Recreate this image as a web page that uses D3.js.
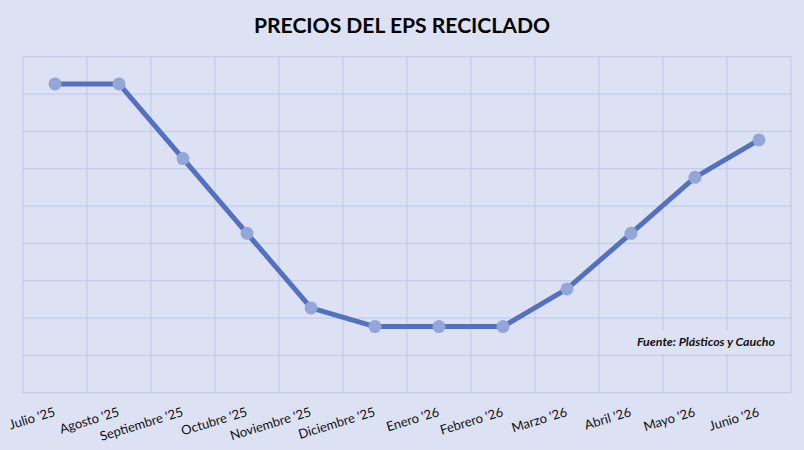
<!DOCTYPE html>
<html>
<head>
<meta charset="utf-8">
<script src="https://cdn.jsdelivr.net/npm/d3@7"></script>
<style>
  body { margin: 0; background: #dce2f4; }
  svg { display: block; }
</style>
</head>
<body>
<div id="chart"></div>
<script>
// datos del grafico
const months = ["Julio '25", "Agosto '25", "Septiembre '25", "Octubre '25", "Noviembre '25", "Diciembre '25",
                "Enero '26", "Febrero '26", "Marzo '26", "Abril '26", "Mayo '26", "Junio '26"];
const prices = [8.27, 8.27, 6.27, 4.27, 2.27, 1.77, 1.77, 1.77, 2.78, 4.27, 5.77, 6.77];
const yTicks = [0, 1, 2, 3, 4, 5, 6, 7, 8, 9];

const width = 804, height = 450;
const margin = { top: 56.7, right: 13, bottom: 57.3, left: 23 };

const svg = d3.select("#chart").append("svg")
    .attr("width", width)
    .attr("height", height);

svg.append("rect")
    .attr("width", width)
    .attr("height", height)
    .attr("fill", "#dce2f4");

const x = d3.scaleBand()
    .domain(months)
    .range([margin.left, width - margin.right]);

const y = d3.scaleLinear()
    .domain([0, 9])
    .range([height - margin.bottom, margin.top]);

// rejilla
const grid = svg.append("g").attr("stroke", "#c2cce9").attr("stroke-width", 1.2);
grid.selectAll(".h")
    .data(yTicks)
    .enter().append("line")
    .attr("x1", margin.left)
    .attr("x2", width - margin.right)
    .attr("y1", d => y(d))
    .attr("y2", d => y(d));

const vLines = months.map(m => x(m)).concat([x(months[months.length - 1]) + x.bandwidth()]);
grid.selectAll(".v")
    .data(vLines)
    .enter().append("line")
    .attr("x1", d => d)
    .attr("x2", d => d)
    .attr("y1", y(0))
    .attr("y2", y(9));

// etiquetas del eje x
svg.append("g")
    .selectAll("text")
    .data(months)
    .enter().append("text")
    .attr("transform", d => `translate(${x(d) + x.bandwidth() / 2 + 1},${y(0) + 23}) rotate(-17)`)
    .attr("text-anchor", "end")
    .attr("font-family", "Lato, 'Open Sans', sans-serif")
    .attr("font-size", 13)
    .attr("fill", "#111")
    .text(d => d);

// linea
const line = d3.line()
    .x((d, i) => x(months[i]) + x.bandwidth() / 2)
    .y(d => y(d));

svg.append("path")
    .datum(prices)
    .attr("d", line)
    .attr("fill", "none")
    .attr("stroke", "#5470c1")
    .attr("stroke-width", 5)
    .attr("stroke-linejoin", "round");

svg.selectAll(".dot")
    .data(prices)
    .enter().append("circle")
    .attr("cx", (d, i) => x(months[i]) + x.bandwidth() / 2)
    .attr("cy", d => y(d))
    .attr("r", 6.5)
    .attr("fill", "#93a6da");

// titulo
svg.append("text")
    .attr("x", width / 2)
    .attr("y", 33)
    .attr("text-anchor", "middle")
    .attr("font-family", "Lato, 'Open Sans', sans-serif")
    .attr("font-weight", "bold")
    .attr("font-size", 20)
    .attr("textLength", 296)
    .attr("lengthAdjust", "spacingAndGlyphs")
    .attr("fill", "#000")
    .text("PRECIOS DEL EPS RECICLADO");

// fuente
svg.append("rect")
    .attr("x", 630)
    .attr("y", 331)
    .attr("width", 160)
    .attr("height", 23)
    .attr("fill", "#dce2f4");

svg.append("text")
    .attr("x", 775)
    .attr("y", 346)
    .attr("text-anchor", "end")
    .attr("font-family", "Lato, 'Open Sans', sans-serif")
    .attr("font-weight", "bold")
    .attr("font-style", "italic")
    .attr("font-size", 11.5)
    .attr("textLength", 138)
    .attr("lengthAdjust", "spacingAndGlyphs")
    .attr("fill", "#111")
    .text("Fuente: Plásticos y Caucho");
</script>
</body>
</html>
